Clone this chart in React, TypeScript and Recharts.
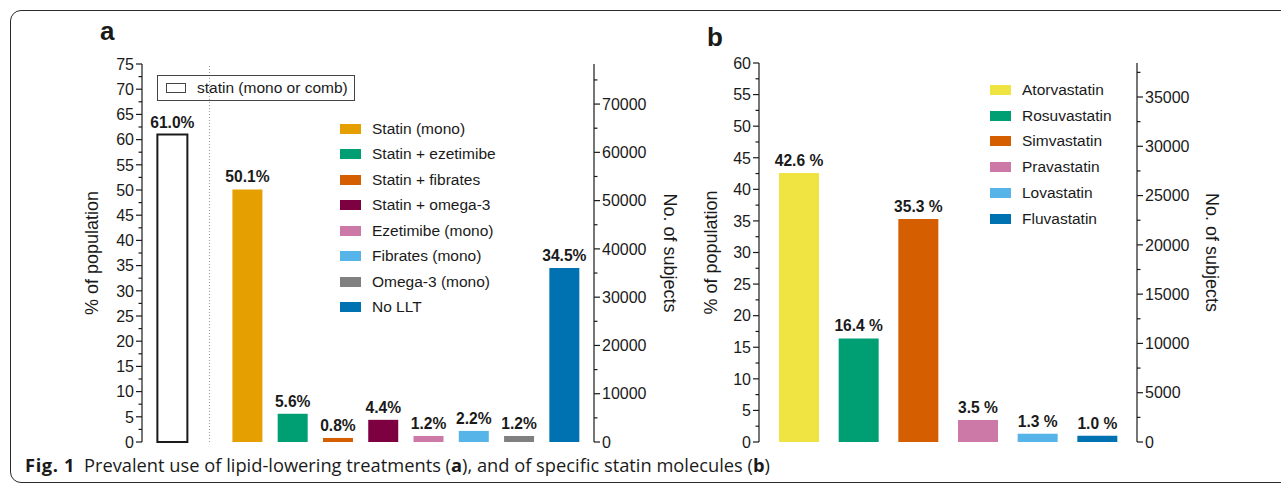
import React from "react";
import { BarChart, Bar, XAxis, YAxis, Cell, LabelList, ReferenceLine, Label } from "recharts";

// panel a: lipid-lowering treatments
const treatmentNames = [
  "statin (mono or comb)",
  "Statin (mono)",
  "Statin + ezetimibe",
  "Statin + fibrates",
  "Statin + omega-3",
  "Ezetimibe (mono)",
  "Fibrates (mono)",
  "Omega-3 (mono)",
  "No LLT",
];
const treatmentPct = [61.0, 50.1, 5.6, 0.8, 4.4, 1.2, 2.2, 1.2, 34.5];
const treatmentColors = ["#ffffff", "#E69F00", "#009E73", "#D55E00", "#7D0041", "#CC79A7", "#56B4E9", "#808080", "#0072B2"];

// panel b: statin molecules
const statinNames = ["Atorvastatin", "Rosuvastatin", "Simvastatin", "Pravastatin", "Lovastatin", "Fluvastatin"];
const statinPct = [42.6, 16.4, 35.3, 3.5, 1.3, 1.0];
const statinColors = ["#F0E442", "#009E73", "#D55E00", "#CC79A7", "#56B4E9", "#0072B2"];

// axis tick labels
const pctTicksA = [0, 5, 10, 15, 20, 25, 30, 35, 40, 45, 50, 55, 60, 65, 70, 75];
const subjTicksA = [0, 10000, 20000, 30000, 40000, 50000, 60000, 70000];
const pctTicksB = [0, 5, 10, 15, 20, 25, 30, 35, 40, 45, 50, 55, 60];
const subjTicksB = [0, 5000, 10000, 15000, 20000, 25000, 30000, 35000];
const subjMaxA = 78300; // right axis top = 75 %
const subjMaxB = 38450; // right axis top = 60 %

const FONT = "'Liberation Sans', Arial, sans-serif";
const INK = "#1a1a1a";
const GROUP_GAP = 1.657; // extra space after the combined statin bar

// add minor ticks halfway between the major ones
const withMinor = (majors: number[], max: number) => {
  const step = majors[1] - majors[0];
  const out: number[] = [];
  for (let v = 0; v <= max + 1e-6; v += step / 2) out.push(v);
  return out;
};

const dataA = treatmentNames.map((name, i) => ({
  name,
  pos: i === 0 ? 0 : GROUP_GAP + i - 1,
  pct: treatmentPct[i],
}));

const dataB = statinNames.map((name, i) => ({ name, pct: statinPct[i] }));

function AxisTick(props: any) {
  const { x, y, payload, side, majors } = props;
  const v = payload.value;
  const major = majors.some((m: number) => Math.abs(m - v) < 1e-6);
  const len = major ? 6 : 3.5;
  const dir = side === "left" ? -1 : 1;
  return (
    <g>
      <line x1={x} x2={x + dir * len} y1={y} y2={y} stroke={INK} strokeWidth={1.2} />
      {major && (
        <text
          x={x + dir * (len + 2)}
          y={y}
          dy="0.36em"
          textAnchor={side === "left" ? "end" : "start"}
          fontSize={16}
          fontFamily={FONT}
          fill={INK}
        >
          {v}
        </text>
      )}
    </g>
  );
}

const axisTitle = (text: string, dx: number, angle: number) => (props: any) => {
  const vb = props.viewBox || { x: 0, y: 0, width: 0, height: 0 };
  const cx = vb.x + dx;
  const cy = vb.y + vb.height / 2;
  return (
    <text
      x={cx}
      y={cy}
      transform={`rotate(${angle} ${cx} ${cy})`}
      textAnchor="middle"
      dominantBaseline="central"
      fontSize={18}
      fontFamily={FONT}
      fill={INK}
    >
      {text}
    </text>
  );
};

// value label above a bar, kept on one line
const barLabel = (suffix: string) => (props: any) => {
  const { x, y, width, value } = props;
  return (
    <text
      x={Number(x) + Number(width) / 2}
      y={Number(y) - 7}
      textAnchor="middle"
      fontSize={15.6}
      fontWeight={700}
      fontFamily={FONT}
      fill={INK}
    >
      {`${Number(value).toFixed(1)}${suffix}`}
    </text>
  );
};

const Swatch = ({ color, outline }: { color: string; outline?: boolean }) => (
  <span
    style={{
      display: "inline-block",
      width: outline ? 18 : 21,
      height: outline ? 8 : 10,
      background: color,
      border: outline ? "1.5px solid #444" : "none",
      marginRight: 11,
    }}
  />
);

function LegendRows({ names, colors, left, top, step }: any) {
  return (
    <div style={{ position: "absolute", left, top, fontFamily: FONT, fontSize: 15.5, color: INK }}>
      {names.map((n: string, i: number) => (
        <div key={n} style={{ height: step, display: "flex", alignItems: "center" }}>
          <Swatch color={colors[i]} />
          <span>{n}</span>
        </div>
      ))}
    </div>
  );
}

export default function App() {
  return (
    <div style={{ position: "absolute", left: 0, top: 0, width: 1281, height: 485, overflow: "hidden", background: "#fff" }}>
      {/* figure frame */}
      <div
        style={{
          position: "absolute",
          left: 10,
          top: 10,
          width: 1300,
          height: 473,
          border: "1.5px solid #2a2a2a",
          borderRadius: 11,
          boxSizing: "border-box",
        }}
      />

      {/* panel a */}
      <div style={{ position: "absolute", left: 0, top: 0 }}>
        <BarChart width={700} height={470} data={dataA} margin={{ top: 64, right: 26, bottom: 28, left: 82 }}>
          <XAxis
            type="number"
            dataKey="pos"
            domain={[-0.663, 9.32]}
            allowDataOverflow
            tick={false}
            tickLine={false}
            height={0}
            axisLine={{ stroke: INK, strokeWidth: 1.2 }}
          />
          <YAxis
            yAxisId="pct"
            domain={[0, 75]}
            ticks={withMinor(pctTicksA, 75)}
            interval={0}
            tickSize={0}
            tickMargin={0}
            width={60}
            axisLine={{ stroke: INK, strokeWidth: 1.2 }}
            tick={(p: any) => <AxisTick {...p} side="left" majors={pctTicksA} />}
          >
            <Label content={axisTitle("% of population", 10, -90)} />
          </YAxis>
          <YAxis
            yAxisId="n"
            orientation="right"
            domain={[0, subjMaxA]}
            allowDataOverflow
            ticks={withMinor(subjTicksA, 75000)}
            interval={0}
            tickSize={0}
            tickMargin={0}
            width={80}
            axisLine={{ stroke: INK, strokeWidth: 1.2 }}
            tick={(p: any) => <AxisTick {...p} side="right" majors={subjTicksA} />}
          >
            <Label content={axisTitle("No. of subjects", 76, 90)} />
          </YAxis>
          <ReferenceLine yAxisId="pct" x={GROUP_GAP / 2} stroke="#9a9a9a" strokeWidth={1} strokeDasharray="1 2" />
          <Bar yAxisId="pct" dataKey="pct" barSize={30} isAnimationActive={false}>
            {dataA.map((d, i) => (
              <Cell
                key={d.name}
                fill={treatmentColors[i]}
                stroke={i === 0 ? INK : "none"}
                strokeWidth={i === 0 ? 2 : 0}
              />
            ))}
            <LabelList dataKey="pct" content={barLabel("%")} />
          </Bar>
        </BarChart>
      </div>

      {/* panel b */}
      <div style={{ position: "absolute", left: 690, top: 0 }}>
        <BarChart width={591} height={470} data={dataB} margin={{ top: 63, right: 64, bottom: 28, left: 14 }}>
          <XAxis
            dataKey="name"
            padding={{ left: 10, right: 10 }}
            tick={false}
            tickLine={false}
            height={0}
            axisLine={{ stroke: INK, strokeWidth: 1.2 }}
          />
          <YAxis
            yAxisId="pct"
            domain={[0, 60]}
            ticks={withMinor(pctTicksB, 60)}
            interval={0}
            tickSize={0}
            tickMargin={0}
            width={55}
            axisLine={{ stroke: INK, strokeWidth: 1.2 }}
            tick={(p: any) => <AxisTick {...p} side="left" majors={pctTicksB} />}
          >
            <Label content={axisTitle("% of population", 7, -90)} />
          </YAxis>
          <YAxis
            yAxisId="n"
            orientation="right"
            domain={[0, subjMaxB]}
            allowDataOverflow
            ticks={withMinor(subjTicksB, 37500)}
            interval={0}
            tickSize={0}
            tickMargin={0}
            width={80}
            axisLine={{ stroke: INK, strokeWidth: 1.2 }}
            tick={(p: any) => <AxisTick {...p} side="right" majors={subjTicksB} />}
          >
            <Label content={axisTitle("No. of subjects", 75, 90)} />
          </YAxis>
          <Bar yAxisId="pct" dataKey="pct" barSize={40} isAnimationActive={false}>
            {dataB.map((d, i) => (
              <Cell key={d.name} fill={statinColors[i]} />
            ))}
            <LabelList dataKey="pct" content={barLabel(" %")} />
          </Bar>
        </BarChart>
      </div>

      {/* panel letters */}
      <div style={{ position: "absolute", left: 100, top: 16, fontFamily: FONT, fontWeight: 700, fontSize: 26, color: INK }}>a</div>
      <div style={{ position: "absolute", left: 707, top: 22, fontFamily: FONT, fontWeight: 700, fontSize: 26, color: INK }}>b</div>

      {/* legend a: combined statin */}
      <div
        style={{
          position: "absolute",
          left: 157,
          top: 75,
          width: 198,
          height: 26,
          boxSizing: "border-box",
          border: "1.5px solid #444",
          display: "flex",
          alignItems: "center",
          paddingLeft: 8,
          fontFamily: FONT,
          fontSize: 15.5,
          color: INK,
        }}
      >
        <Swatch color="#fff" outline />
        <span>{treatmentNames[0]}</span>
      </div>
      <LegendRows names={treatmentNames.slice(1)} colors={treatmentColors.slice(1)} left={340} top={116} step={25.5} />
      <LegendRows names={statinNames} colors={statinColors} left={990} top={77} step={25.8} />

      {/* caption */}
      <div
        style={{
          position: "absolute",
          left: 25,
          top: 454,
          fontFamily: "'Open Sans', 'Noto Sans', sans-serif",
          fontSize: 18.3,
          lineHeight: "22px",
          color: INK,
          whiteSpace: "nowrap",
        }}
      >
        <b style={{ letterSpacing: 0.6 }}>Fig. 1</b>
        <span style={{ marginLeft: 9 }}>
          Prevalent use of lipid-lowering treatments (<b>a</b>), and of specific statin molecules (<b>b</b>)
        </span>
      </div>
    </div>
  );
}
